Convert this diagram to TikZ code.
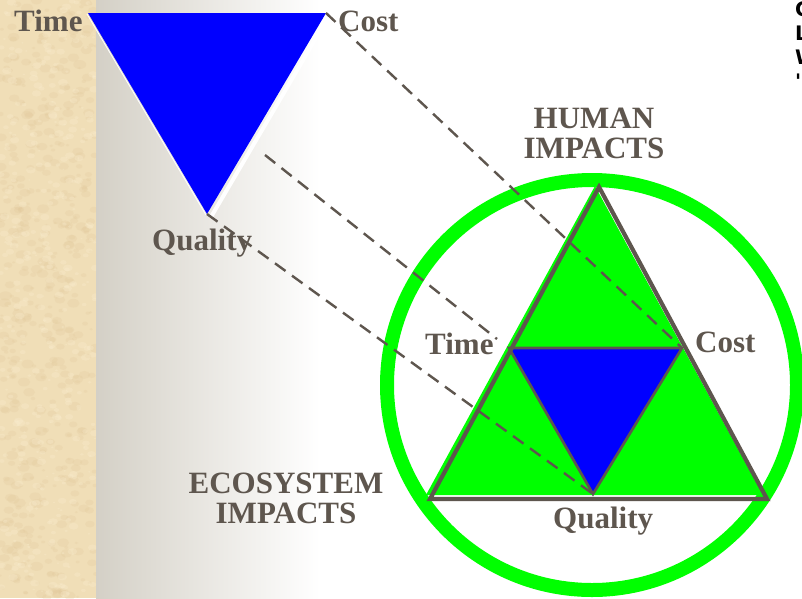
\documentclass[tikz,border=0pt]{standalone}
\usepackage{fontspec}
\setmainfont{Liberation Serif}
\newfontfamily\sideSans{DejaVu Sans}
\definecolor{tc}{RGB}{94,86,78}
\definecolor{gr}{RGB}{0,255,0}
\definecolor{bl}{RGB}{0,0,255}
\definecolor{parch}{RGB}{240,222,183}
\definecolor{parchdark}{RGB}{224,198,152}
\definecolor{parchlight}{RGB}{250,238,208}
\definecolor{grad}{RGB}{212,208,198}
\begin{document}
\begin{tikzpicture}[x=1pt,y=-1pt,
  lab/.style={font=\fontsize{31}{30}\selectfont\bfseries, text=tc, inner sep=0pt, align=center},
  dashline/.style={draw=tc, line width=2.4pt, dash pattern=on 13pt off 8pt},
  edgeline/.style={draw=tc, line width=4.2pt, line join=miter},
  thinedge/.style={draw=tc, line width=2.6pt, line join=miter}]
\useasboundingbox (0,0) rectangle (802,598);
% background
\fill[white] (0,0) rectangle (802,598);
\shade[left color=grad, right color=white] (96,0) rectangle (320,598);
\fill[parch] (0,0) rectangle (96,598);
\begin{scope}
  \clip (0,0) rectangle (96,598);
  \pgfmathsetseed{7}
  \foreach \i in {1,...,500}{
    \pgfmathsetmacro\xx{rnd*96}
    \pgfmathsetmacro\yy{rnd*598}
    \pgfmathsetmacro\rr{1.5+rnd*5}
    \fill[parchdark, opacity=0.22] (\xx,\yy) ellipse ({\rr pt} and {0.7*\rr pt});
  }
  \foreach \i in {1,...,400}{
    \pgfmathsetmacro\xx{rnd*96}
    \pgfmathsetmacro\yy{rnd*598}
    \pgfmathsetmacro\rr{1+rnd*4}
    \fill[parchlight, opacity=0.3] (\xx,\yy) ellipse ({\rr pt} and {0.7*\rr pt});
  }
\end{scope}
% cut-off text at right edge
\begin{scope}
  \clip (794,0) rectangle (802,110);
  \node[anchor=north west, inner sep=0pt, font=\sideSans\bfseries\fontsize{20}{24}\selectfont, align=left] (side) at (795,1) {C\\L\\W\\'};
\end{scope}
% top-left triangle
\coordinate (tT) at (88,13);
\coordinate (tC) at (326,13);
\coordinate (tQ) at (207,214);
\fill[bl] (tT) -- (tC) -- (tQ) -- cycle;
\draw[white, line width=4pt] (329,16) -- (211,217);
\draw[white, line width=0.8pt] (87,14) -- (206,215);
% circle
\coordinate (cc) at (592,385);
\draw[gr, line width=14pt] (cc) circle[radius=205pt];
% big triangle
\coordinate (A) at (599,187);
\coordinate (B) at (430,499);
\coordinate (C) at (767,499);
\fill[gr] (595,186) -- (426,495) -- (763,495) -- cycle;
% inner triangle
\coordinate (iT) at (509,348);
\coordinate (iC) at (682,348);
\coordinate (iQ) at (593,494);
\fill[bl] (iT) -- (iC) -- (iQ) -- cycle;
\draw[thinedge] (iT) -- (iC) -- (iQ) -- cycle;
\draw[edgeline] (A) -- (B) -- (C) -- cycle;
% labels
\node[lab, anchor=base west] (lT) at (14,31) {Time};
\node[lab, anchor=base west] (lC) at (338,31) {Cost};
\node[lab, anchor=base west] (lQ) at (152,250) {Quality};
\node[lab, anchor=base west] (liT) at (425,354) {Time};
\node[lab, anchor=base west] (liC) at (695,352) {Cost};
\node[lab, anchor=base west] (liQ) at (553,528) {Quality};
\node[lab, anchor=base] (hum) at (594,158) {HUMAN\\IMPACTS};
\node[lab, anchor=base] (eco) at (286,523) {ECOSYSTEM\\IMPACTS};
% dashed connectors
\coordinate (s2) at (265,155);
\coordinate (e2) at (497,339);
\draw[dashline] (tC) -- (iC);
\draw[dashline] (s2) -- (e2);
\draw[dashline] (tQ) -- (iQ);
\end{tikzpicture}
\end{document}
